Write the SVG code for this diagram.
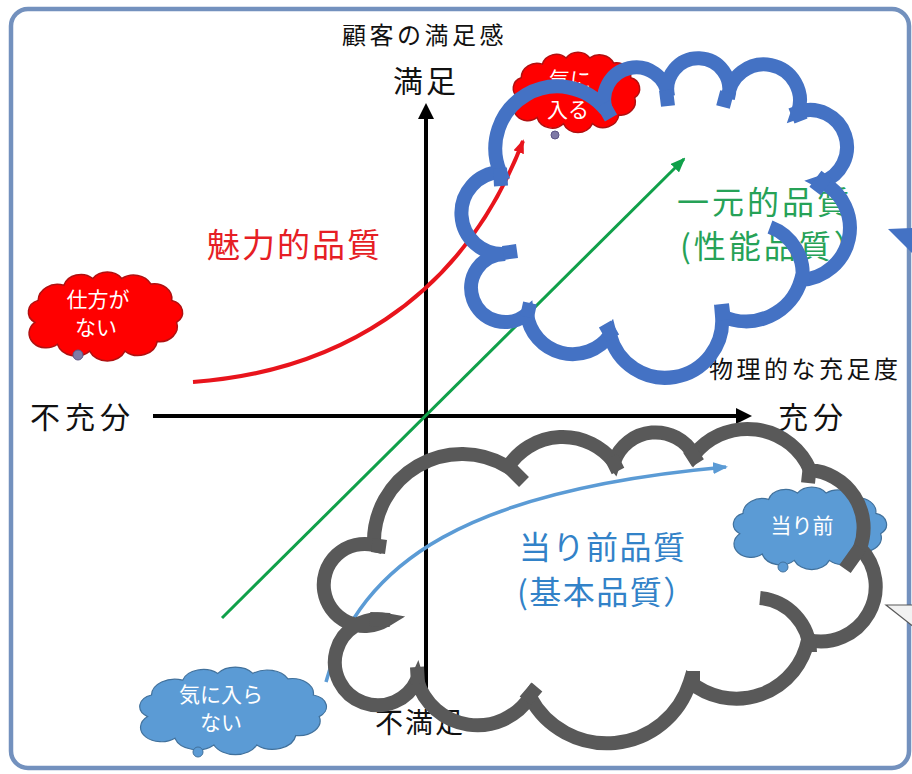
<svg xmlns="http://www.w3.org/2000/svg" width="912" height="774" viewBox="0 0 912 774">
<defs>
<style>
text{font-family:"Noto Sans CJK JP","Noto Sans CJK SC",sans-serif;}
.ax{font-size:30px;fill:#111;letter-spacing:5px;}
.sm{font-size:24px;fill:#111;}
.wt{fill:#fff;font-size:21px;text-anchor:middle;}
.big{fill:none;stroke-width:14;stroke-linecap:butt;}
.bl{stroke:#4472c4;}
.gy{stroke:#595959;}
.rc{fill:#ff0000;stroke:#b01010;stroke-width:1.5;}
.bc{fill:#5b9bd5;stroke:#41719c;stroke-width:1.2;}
.rt{fill:#7f7aa6;stroke:#5d5585;stroke-width:1;}
.bt{fill:#5b9bd5;stroke:#41719c;stroke-width:1;}
</style>
<path id="sc" vector-effect="non-scaling-stroke" d="M8,36 A9,9 0 0 1 10,20 A12,12 0 0 1 26,9 A11,11 0 0 1 44,4 A11,11 0 0 1 62,4 A12,12 0 0 1 80,8 A11,11 0 0 1 93,20 A9,9 0 0 1 96,36 A11,11 0 0 1 84,50 A12,12 0 0 1 64,57 A12,12 0 0 1 42,57 A12,12 0 0 1 22,52 A9,9 0 0 1 8,36 Z"/>
<marker id="mr" viewBox="0 0 14 11" refX="12" refY="5.5" markerWidth="14" markerHeight="11" markerUnits="userSpaceOnUse" orient="auto"><path d="M0,0 L14,5.5 L0,11 z" fill="#e8141c"/></marker>
<marker id="mg" viewBox="0 0 15 12" refX="13" refY="6" markerWidth="15" markerHeight="12" markerUnits="userSpaceOnUse" orient="auto"><path d="M0,0 L15,6 L0,12 z" fill="#10a04a"/></marker>
<marker id="mb" viewBox="0 0 15 12" refX="13" refY="6" markerWidth="15" markerHeight="12" markerUnits="userSpaceOnUse" orient="auto"><path d="M0,0 L15,6 L0,12 z" fill="#5b9bd5"/></marker>
</defs>

<rect x="11" y="9" width="898" height="759" rx="17" fill="#fff" stroke="#7391be" stroke-width="4.5"/>

<g id="cloud-shikata">
<use href="#sc" class="rc" transform="translate(22,273) scale(1.61,1.37)"/>
<circle class="rt" cx="78" cy="355" r="5"/>
<text class="wt" font-size="19"><tspan x="98" y="307">仕方が</tspan><tspan x="96" y="335">ない</tspan></text>
</g>

<g id="cloud-kiniiru">
<use href="#sc" class="rc" transform="translate(508,53) scale(1.32,1.24)"/>
<circle class="rt" cx="555" cy="135" r="4"/>
<text class="wt" font-size="20"><tspan x="570" y="87">気に</tspan><tspan x="568" y="117">入る</tspan></text>
</g>

<g id="cloud-atarimae">
<use href="#sc" class="bc" transform="translate(727,488) scale(1.6,1.27)"/>
<circle class="bt" cx="783" cy="567" r="5"/>
<text class="wt" x="802" y="533" font-size="22">当り前</text>
</g>

<g id="cloud-kiniiranai">
<use href="#sc" class="bc" transform="translate(132,668) scale(1.95,1.35)"/>
<circle class="bt" cx="198" cy="752" r="5"/>
<text class="wt" font-size="19"><tspan x="221" y="702">気に入ら</tspan><tspan x="221" y="730">ない</tspan></text>
</g>

<g id="axes">
<line x1="426" y1="700" x2="426" y2="116" stroke="#000" stroke-width="4"/>
<polygon points="426,103 434,119 418,119" fill="#000"/>
<line x1="153" y1="416" x2="739" y2="416" stroke="#000" stroke-width="4"/>
<polygon points="752,416 736,408 736,424" fill="#000"/>
</g>

<g id="connectors">
<path d="M193,382 C330,372 460,305 523,141" fill="none" stroke="#e8141c" stroke-width="4" marker-end="url(#mr)"/>
<path d="M222,618 L684,159" fill="none" stroke="#10a04a" stroke-width="3" marker-end="url(#mg)"/>
<path d="M326,682 C360,560 470,490 726,467" fill="none" stroke="#5b9bd5" stroke-width="3.5" marker-end="url(#mb)"/>
</g>

<g id="labels">
<text x="342" y="44" class="sm" font-size="25" style="letter-spacing:3.5px">顧客の満足感</text>
<text x="393" y="92" class="ax" style="letter-spacing:3px">満足</text>
<text x="30" y="428" class="ax">不充分</text>
<text x="778" y="428" class="ax">充分</text>
<text x="709" y="378" class="sm" style="letter-spacing:3.5px">物理的な充足度</text>
<text x="375" y="733" font-size="28" fill="#111" style="letter-spacing:2px">不満足</text>
<text x="207" y="257" font-size="33" fill="#e61e25" style="letter-spacing:2px">魅力的品質</text>
<text x="677" y="214" font-size="32" fill="#26a257" style="letter-spacing:3px">一元的品質</text>
<text x="680" y="258" font-size="32" fill="#26a257" style="letter-spacing:3px">(性能品質）</text>
<text x="519" y="559" font-size="32" fill="#3282c8" style="letter-spacing:1.5px">当り前品質</text>
<text x="517" y="604" font-size="32" fill="#3282c8" style="letter-spacing:1.5px">(基本品質）</text>
</g>

<g id="cloud-blue-big">
<path class="big bl" d="M527,314 A34,34 0 1 1 505,254 A41,41 0 1 1 500,172 A62,62 0 0 1 606,110 A32,32 0 1 1 668,96 A31,31 0 1 1 728,98 A36,36 0 1 1 798,112 A37,37 0 0 1 822,182 A52,52 0 0 1 801,280 A57,57 0 0 1 722,316 A57,57 0 0 1 610,335 A46,46 0 0 1 527,314 Z"/>
<path class="big bl" d="M770,227 A50,50 0 0 1 802,282 M503,253 L517,251 M500,168 L501,186 M603,104 L611,118 M666,90 L668,106 M727,92 L723,107 M795,106 L801,121 M827,175 L815,191 M724,320 L722,304 M613,338 L605,324 M527,317 L530,303"/>
<polygon points="888,229 913,228 913,254" fill="#4472c4"/>
</g>

<g id="cloud-gray-big">
<path class="big gy" d="M386,620 A41,41 0 1 1 374,545 A88,88 0 0 1 508,467 A65,65 0 0 1 614,462 A44,44 0 0 1 694,455 A68,68 0 0 1 810,470 A58,58 0 0 1 860,548 A55,55 0 0 1 808,640 A73,73 0 0 1 690,682 A87,87 0 0 1 530,697 A63,63 0 0 1 417,680 A43,43 0 1 1 386,620 Z"/>
<path class="big gy" d="M760,598 A55,55 0 0 1 810,652 M860,548 L845,569 M372,545 L386,547 M370,619 L390,620 M417,667 L418,684 M525,701 L537,687 M693,688 L693,671 M810,465 L808,483 M689,449 L698,463 M611,457 L618,471 M510,468 L524,482"/>
<polygon points="886,605 914,605 914,627" fill="#f2f2f2" stroke="#595959" stroke-width="1.2"/>
</g>
</svg>
